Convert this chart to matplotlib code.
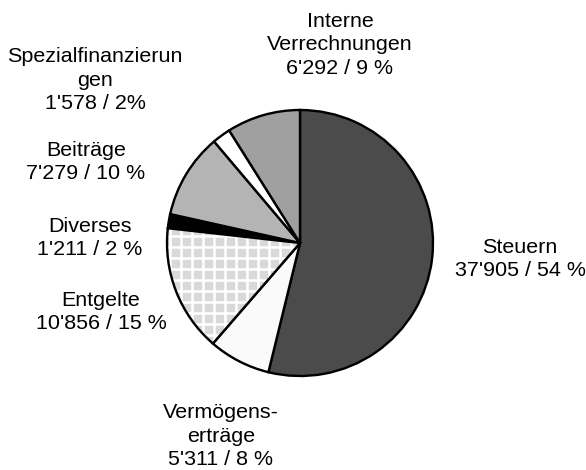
import matplotlib
matplotlib.use("Agg")
from matplotlib import pyplot as plt
from matplotlib.patches import Wedge

# Ertrag by type, clockwise starting at 12 o'clock
categories = ["Steuern", "Vermögenserträge", "Entgelte", "Diverses",
              "Beiträge", "Spezialfinanzierungen", "Interne Verrechnungen"]
values = [37905, 5311, 10856, 1211, 7279, 1578, 6292]
label_texts = [
    "Steuern\n37'905 / 54 %",
    "Vermögens-\nerträge\n5'311 / 8 %",
    "Entgelte\n10'856 / 15 %",
    "Diverses\n1'211 / 2 %",
    "Beiträge\n7'279 / 10 %",
    "Spezialfinanzierun\ngen\n1'578 / 2%",
    "Interne\nVerrechnungen\n6'292 / 9 %",
]
colors = ["#4b4b4b", "#fafafa", "#d9d9d9", "#000000", "#b4b4b4", "#ffffff", "#a0a0a0"]
hatched = "Entgelte"

# label centres in pixels of the 586x470 picture
label_px = [(520, 259), (221, 436), (101, 312), (90, 238), (86, 162), (95, 80), (340, 45)]

DPI = 66
W, H = 586, 470
CX, CY, R = 300, 243, 133


def to_data(px, py):
    return (px - CX) / R, (CY - py) / R


def main():
    plt.rcParams['font.family'] = ['Liberation Sans', 'DejaVu Sans']
    plt.rcParams['hatch.linewidth'] = 2.8
    fig = plt.figure(figsize=(W / DPI, H / DPI), dpi=DPI)
    ax = fig.add_axes([(CX - R) / W, (H - CY - R) / H, 2 * R / W, 2 * R / H])

    face = [c if cat != hatched else "none" for c, cat in zip(colors, categories)]
    wedges, _ = ax.pie(values, colors=face, startangle=90, counterclock=False,
                       radius=1, wedgeprops=dict(edgecolor="black", linewidth=2.6))

    # grid pattern for Entgelte: white hatch lines on light grey, below the outline
    for w, cat, c in zip(wedges, categories, colors):
        if cat == hatched:
            w.set_zorder(3)
            grid = Wedge(w.center, w.r, w.theta1, w.theta2, facecolor=c,
                         edgecolor="white", linewidth=0, hatch="+", zorder=2)
            ax.add_patch(grid)

    for txt, (px, py) in zip(label_texts, label_px):
        x, y = to_data(px, py)
        ax.text(x, y, txt, ha="center", va="center", fontsize=23.4,
                linespacing=1.3, clip_on=False)

    ax.set_xlim(-1, 1)
    ax.set_ylim(-1, 1)
    ax.axis("off")
    fig.savefig("out.png", dpi=DPI, facecolor="white")


if __name__ == '__main__':
    main()
